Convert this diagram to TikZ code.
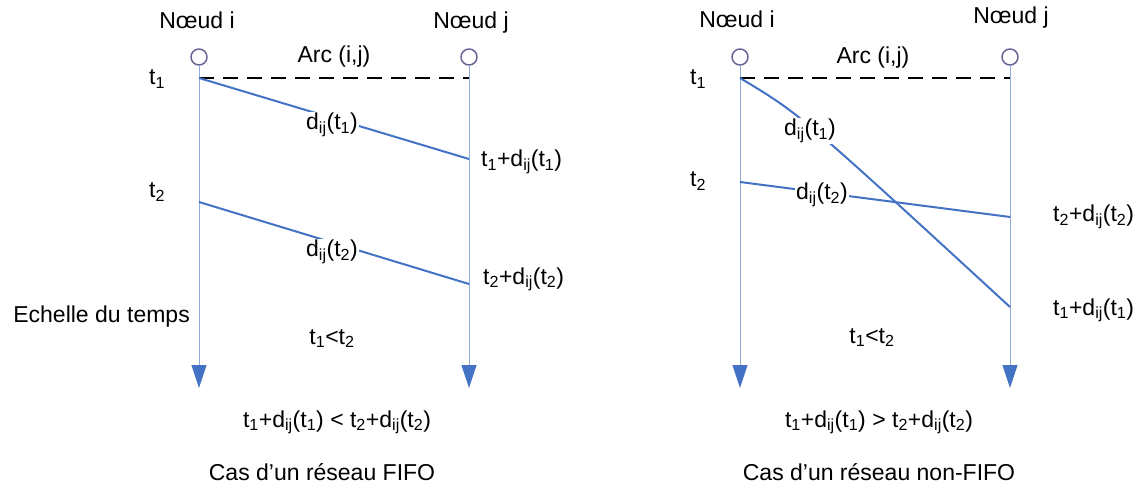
\documentclass[tikz,border=0pt]{standalone}
\usepackage{fontspec}
\setmainfont{Liberation Sans}
\usepackage{xcolor}
\usepackage{tikz}
\usetikzlibrary{arrows.meta}

\definecolor{trait}{RGB}{68,114,196}
\definecolor{axe}{RGB}{143,170,220}
\definecolor{noeud}{RGB}{105,100,150}

\newcommand{\tk}[1]{t\textsubscript{#1}}
\newcommand{\dij}[1]{d\textsubscript{ij}(t\textsubscript{#1})}

\tikzset{
  txt/.style={font=\fontsize{23}{28}\selectfont, inner sep=0pt, anchor=base},
  etiq/.style={txt, fill=white, inner sep=1pt},
  sommet/.style={circle, draw=noeud, line width=1.5pt, fill=white,
    minimum size=16pt, inner sep=0pt},
  axetemps/.style={draw=axe, line width=1pt,
    -{Triangle[length=23pt, width=15pt, color=trait]}},
  delai/.style={draw=trait, line width=2pt},
  arcij/.style={draw=black, line width=2.8pt, dash pattern=on 15pt off 9pt}
}

\begin{document}
\begin{tikzpicture}[x=1pt, y=-1pt, line join=round]

    \useasboundingbox (0,0) rectangle (1141,489);

    % Reseau FIFO (gauche)
    \node[sommet] (gi) at (199,57) {};
    \node[sommet] (gj) at (469,57) {};
    \coordinate (gi1) at (199,78);
    \coordinate (gj1) at (469,78);
    \coordinate (gi2) at (199,202);
    \coordinate (gj1d) at (469,159);
    \coordinate (gj2d) at (469,284);
    \coordinate (gfi) at (199,388);
    \coordinate (gfj) at (469,388);

    % Axes du temps
    \draw[axetemps] (gi) -- (gfi);
    \draw[axetemps] (gj) -- (gfj);
    \draw[arcij] (gi1) -- (gj1);

    % Delais
    \draw[delai] (gi1) -- (gj1d);
    \draw[delai] (gi2) -- (gj2d);

    % Etiquettes
    \node[txt] (ngi) at (197,29) {Nœud i};
    \node[txt] (ngj) at (471,29) {Nœud j};
    \node[txt] (garc) at (334,63) {Arc (i,j)};
    \node[txt, anchor=base west] (gt1) at (149,85) {\tk1};
    \node[txt, anchor=base west] (gt2) at (149,198) {\tk2};
    \node[etiq] (gd1) at (332,130) {\dij1};
    \node[etiq] (gd2) at (332,257) {\dij2};
    \node[txt, anchor=base west] (ga1) at (481,167) {\tk1+\dij1};
    \node[txt, anchor=base west] (ga2) at (483,284) {\tk2+\dij2};
    \node[txt, anchor=base east] (echelle) at (190,322) {Echelle du temps};
    \node[txt] (gord) at (332,344) {\tk1<\tk2};
    \node[txt] (gres) at (337,427) {\tk1+\dij1 < \tk2+\dij2};
    \node[txt] (gtitre) at (322,480) {Cas d’un réseau FIFO};

    % Reseau non-FIFO (droite)
    \node[sommet] (di) at (740,57) {};
    \node[sommet] (dj) at (1010,57) {};
    \coordinate (di1) at (740,78);
    \coordinate (dj1) at (1010,78);
    \coordinate (di2) at (740,182);
    \coordinate (dj1d) at (1010,307);
    \coordinate (dj2d) at (1010,217);
    \coordinate (dfi) at (740,388);
    \coordinate (dfj) at (1010,388);

    % Axes du temps
    \draw[axetemps] (di) -- (dfi);
    \draw[axetemps] (dj) -- (dfj);
    \draw[arcij] (di1) -- (dj1);

    % Delais
    \draw[delai] (di1) .. controls (800,114) .. (dj1d);
    \draw[delai] (di2) -- (dj2d);

    % Etiquettes
    \node[txt] (ndi) at (737,28) {Nœud i};
    \node[txt] (ndj) at (1011,24) {Nœud j};
    \node[txt] (darc) at (873,64) {Arc (i,j)};
    \node[txt, anchor=base west] (dt1) at (690,85) {\tk1};
    \node[txt, anchor=base west] (dt2) at (690,187) {\tk2};
    \node[etiq] (dd1) at (810,136) {\dij1};
    \node[etiq] (dd2) at (822,200) {\dij2};
    \node[txt, anchor=base west] (da2) at (1053,222) {\tk2+\dij2};
    \node[txt, anchor=base west] (da1) at (1053,315) {\tk1+\dij1};
    \node[txt] (dord) at (872,343) {\tk1<\tk2};
    \node[txt] (dres) at (879,427) {\tk1+\dij1 > \tk2+\dij2};
    \node[txt] (dtitre) at (879,480) {Cas d’un réseau non-FIFO};

\end{tikzpicture}
\end{document}
